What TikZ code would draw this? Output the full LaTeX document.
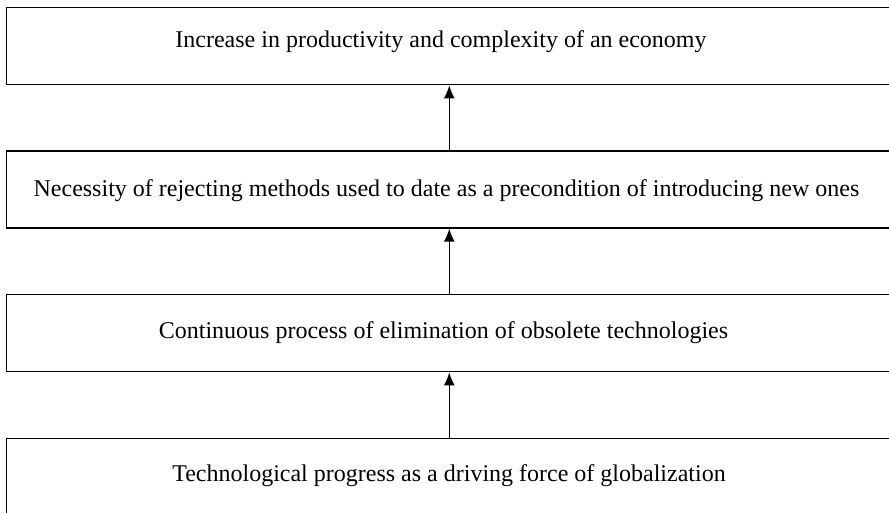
\documentclass[tikz,border=0pt]{standalone}
\usepackage{fontspec}
\setmainfont{Liberation Serif}
\usetikzlibrary{arrows.meta}
\begin{document}
\begin{tikzpicture}[x=1pt,y=-1pt,
  box/.style={draw=black, line width=1.8pt, minimum width=885.5pt, minimum height=77pt, inner sep=0pt},
  label/.style={inner sep=0pt, font=\fontsize{24}{28}\selectfont},
  link/.style={line width=1.4pt, -{Latex[length=13pt,width=11pt]}}]
  \useasboundingbox (0,0) rectangle (889,513);
  \clip (0,0) rectangle (889,513);
  \node[box] (b1) at (449.25,46) {};
  \node[box] (b2) at (449.25,189.25) {};
  \node[box] (b3) at (449.25,333) {};
  \node[box] (b4) at (449.25,477) {};
  \node[label] (t1) at (441,42) {Increase in productivity and complexity of an economy};
  \node[label] (t2) at (446.5,191) {Necessity of rejecting methods used to date as a precondition of introducing new ones};
  \node[label] (t3) at (443.5,333) {Continuous process of elimination of obsolete technologies};
  \node[label] (t4) at (449,476) {Technological progress as a driving force of globalization};
  \draw[link] (b2.north) -- (b1.south);
  \draw[link] (b3.north) -- (b2.south);
  \draw[link] (b4.north) -- (b3.south);
\end{tikzpicture}
\end{document}
